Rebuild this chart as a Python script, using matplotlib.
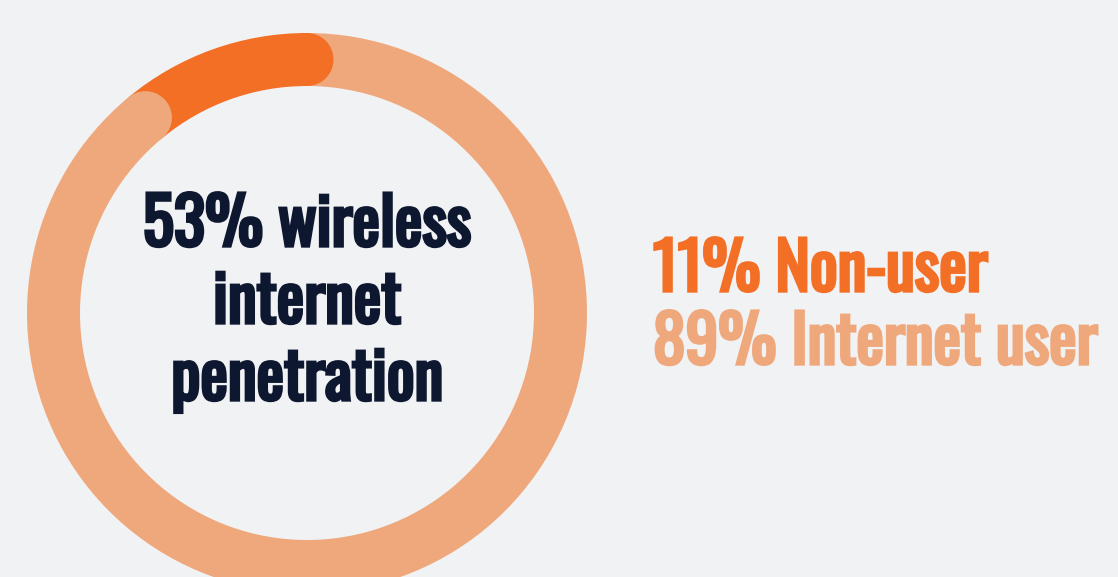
import matplotlib
matplotlib.use('Agg')
import matplotlib.pyplot as plt
import matplotlib.patheffects as pe
import numpy as np
from matplotlib.patches import Circle

# data
labels = ["Non-user", "Internet user"]
shares = [11, 89]
center_lines = ["53% wireless", "internet", "penetration"]

BG = "#F1F2F4"
ORANGE = "#F36F26"
LIGHT = "#EFA87C"
DARK = "#0E1730"
FONT = ["Oswald", "Barlow Condensed", "DejaVu Sans"]

W, H = 1118, 577
fig = plt.figure(figsize=(W / 100, H / 100), dpi=100, facecolor=BG)
ax = fig.add_axes([0, 0, 1, 1])
ax.set_facecolor(BG)

# ring geometry in pixels (y up)
cx, cy = 307, H - 313
r_out, width = 280, 53
r_mid = r_out - width / 2

colors = [ORANGE, LIGHT]
ax.pie(shares, colors=colors, startangle=90, counterclock=True,
       center=(cx, cy), radius=r_out,
       wedgeprops=dict(width=width, linewidth=0))

# rounded ends: orange cap at its start, light cap over the boundary
start = 90
boundary = start + shares[0] / sum(shares) * 360
for ang, col in [(start, ORANGE), (boundary, LIGHT)]:
    a = np.deg2rad(ang)
    ax.add_patch(Circle((cx + r_mid * np.cos(a), cy + r_mid * np.sin(a)),
                        width / 2, facecolor=col, linewidth=0, zorder=5))


def bold(col):
    # only the regular Oswald is installed, so thicken it with a stroke
    return [pe.withStroke(linewidth=2.4, foreground=col, joinstyle="miter")]


# centre label
for i, line in enumerate(center_lines):
    ax.text(cx, H - (246 + i * 77), line, ha="center", va="baseline",
            fontsize=47, color=DARK, family=FONT, path_effects=bold(DARK))

# legend text
for i, (lab, val, col) in enumerate(zip(labels, shares, colors)):
    ax.text(653, H - (291 + i * 73), f"{val}% {lab}", ha="left", va="baseline",
            fontsize=47, color=col, family=FONT, path_effects=bold(col))

ax.set_xlim(0, W)
ax.set_ylim(0, H)
ax.set_aspect("equal")
ax.axis("off")

fig.savefig("out.png", dpi=100, facecolor=BG)
